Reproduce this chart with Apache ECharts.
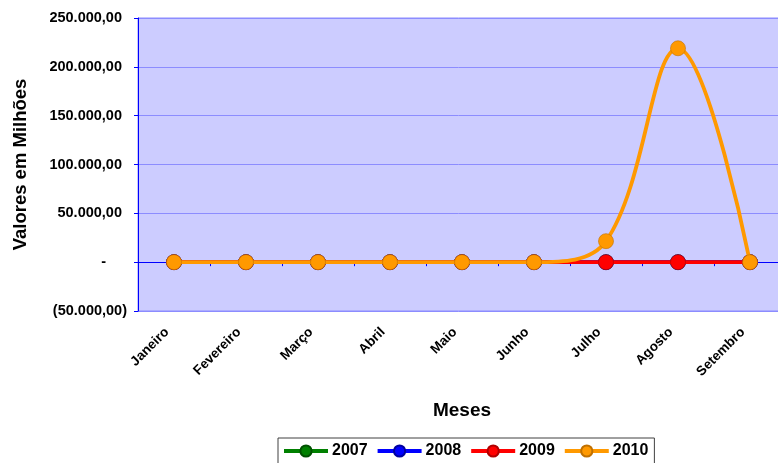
<!DOCTYPE html>
<html><head><meta charset="utf-8">
<script src="https://cdn.jsdelivr.net/npm/echarts@6/dist/echarts.min.js"></script>
<style>html,body{margin:0;padding:0;background:#fff}#c{width:778px;height:463px}</style>
</head><body><div id="c"></div>
<script>
const months = ['Janeiro','Fevereiro','Março','Abril','Maio','Junho','Julho','Agosto','Setembro'];
const s2007 = [0,0,0,0,0,0,0,0,0];
const s2008 = [0,0,0,0,0,0,0,0,0];
const s2009 = [0,0,0,0,0,0,0,0,0];
const s2010 = [0,0,0,0,0,0,21500,219000,0];
const seriesNames = ['2007','2008','2009','2010'];
const seriesColors = ['#008000','#0000FF','#FF0000','#FF9900'];
const seriesBorders = ['#005000','#0000A0','#B00000','#C07000'];
const yMin = -50000, yMax = 250000, yStep = 50000;

const FONT = '"Liberation Sans", Arial, sans-serif';
function fmtNum(v){
  const a = Math.abs(v);
  const s = a.toFixed(2).split('.');
  const int = s[0].replace(/\B(?=(\d{3})+(?!\d))/g,'.');
  return int + ',' + s[1];
}
function yFmt(v){
  if (v === 0) return '{z|-}';
  if (v < 0) return '{n|(' + fmtNum(v) + ')}';
  return '{p|' + fmtNum(v) + '}';
}
const dataSets = [s2007, s2008, s2009, s2010];
const chart = echarts.init(document.getElementById('c'), null, {renderer:'canvas'});
const labelStyle = {fontFamily: FONT, fontWeight: 'bold', fontSize: 14.5, color: '#000'};
chart.setOption({
  animation: false,
  grid: {left: 138, top: 18, right: -8, bottom: 152, show: true, outerBoundsMode: 'none', containLabel: false,
         backgroundColor: '#CCCCFF', borderColor: '#8C8CFF', borderWidth: 1},
  xAxis: [{
    type: 'category', data: months, boundaryGap: true,
    axisLine: {onZero: true, lineStyle: {color: '#0000FF', width: 1}},
    axisTick: {show: true, inside: false, length: 4, lineStyle: {color: '#0000FF'}},
    axisLabel: {show: false},
    splitLine: {show: false}
  },{
    type: 'category', data: months, boundaryGap: true, position: 'bottom',
    axisLine: {show: false, onZero: false},
    axisTick: {show: false},
    axisLabel: {show: true, interval: 0, rotate: 45, margin: 12,
      padding: [0, 10, 0, 0],
      fontFamily: FONT, fontWeight: 'bold', fontSize: 13.5, color: '#000'},
    name: 'Meses', nameLocation: 'middle', nameGap: 90,
    nameTextStyle: {fontFamily: FONT, fontWeight: 'bold', fontSize: 19, color: '#000'}
  }],
  yAxis: {
    type: 'value', min: yMin, max: yMax, interval: yStep,
    axisLine: {show: true, lineStyle: {color: '#0000FF', width: 1}},
    axisTick: {show: true, length: 4, lineStyle: {color: '#0000FF'}},
    splitLine: {show: true, lineStyle: {color: '#8C8CFF', width: 1}},
    axisLabel: {margin: 11, formatter: yFmt,
      rich: {
        p: Object.assign({padding: [0, 5, 0, 0]}, labelStyle),
        n: Object.assign({}, labelStyle),
        z: Object.assign({padding: [0, 21, 0, 0]}, labelStyle)
      }},
    name: 'Valores em Milhões', nameLocation: 'middle', nameGap: 108,
    nameTextStyle: {fontFamily: FONT, fontWeight: 'bold', fontSize: 18.5, color: '#000'}
  },
  legend: {
    left: 278, top: 438, data: seriesNames,
    backgroundColor: '#FFFFFF', borderColor: '#404040', borderWidth: 1,
    padding: [5, 6, 10, 4], itemGap: 8, itemWidth: 44, itemHeight: 14,
    lineStyle: {width: 4},
    textStyle: {fontFamily: FONT, fontWeight: 'bold', fontSize: 16, color: '#000', padding: [0,0,0,-1]}
  },
  series: seriesNames.map((n, i) => ({
    name: n, type: 'line', data: dataSets[i], xAxisIndex: 0,
    smooth: n === '2010' ? 0.38 : false,
    symbol: 'circle', symbolSize: 15,
    lineStyle: {color: seriesColors[i], width: 3.8},
    itemStyle: {color: seriesColors[i], borderColor: seriesBorders[i], borderWidth: 0.6},
    z: 2 + i
  }))
});
</script></body></html>
